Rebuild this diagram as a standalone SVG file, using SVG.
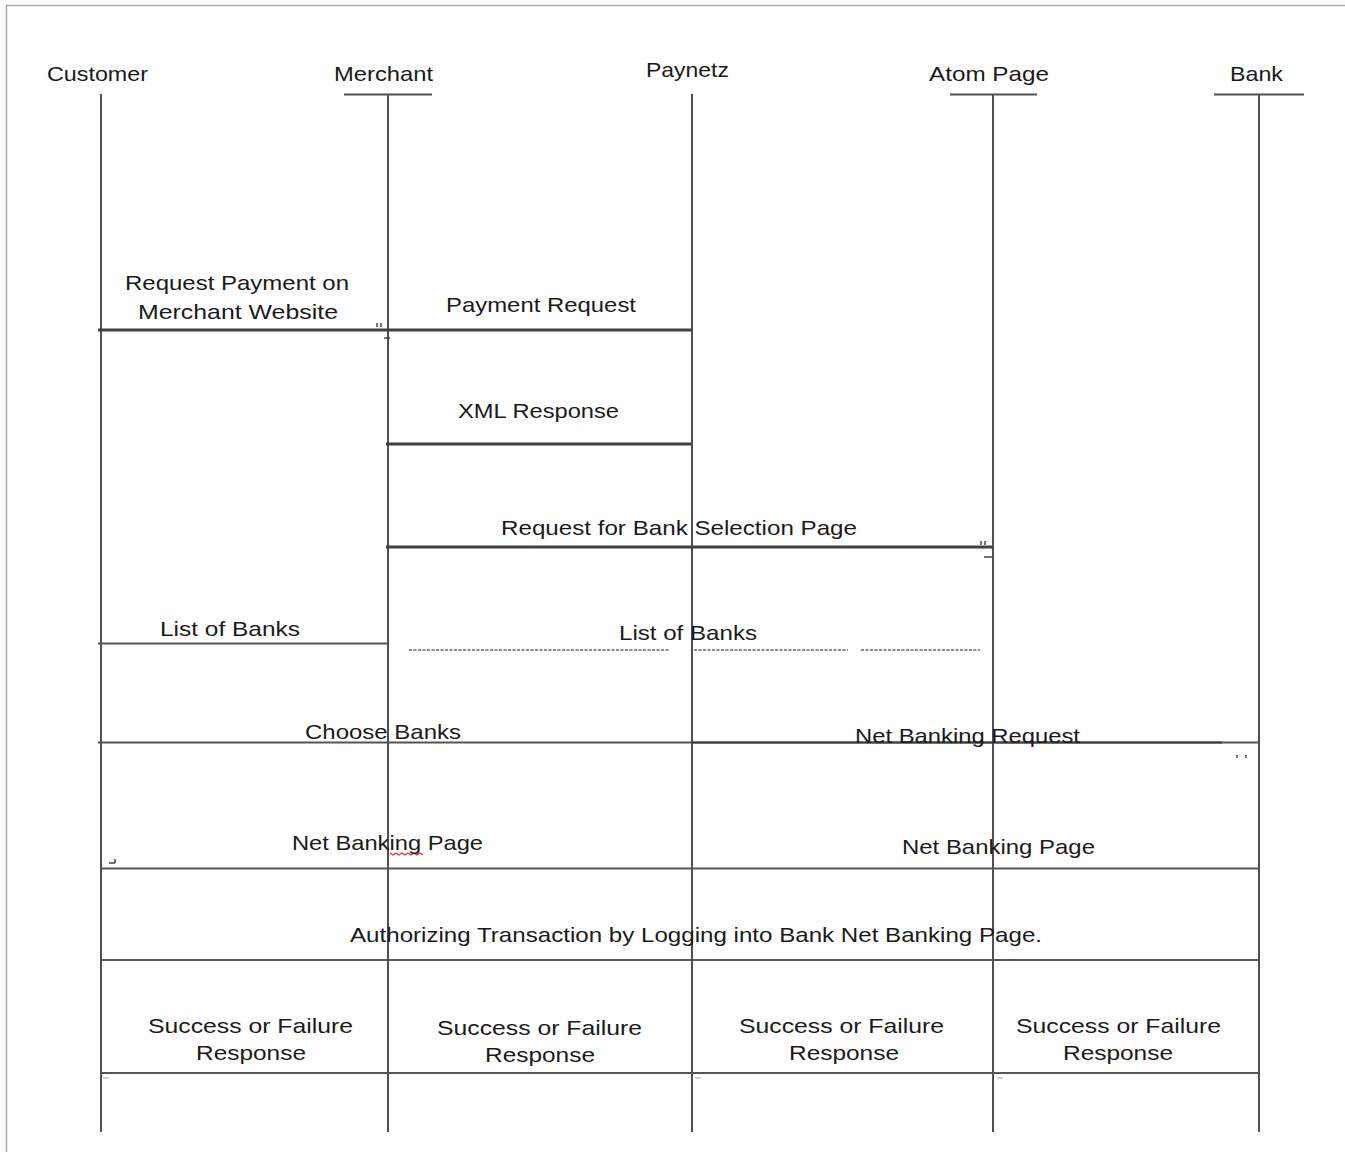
<svg xmlns="http://www.w3.org/2000/svg" width="1345" height="1152" viewBox="0 0 1345 1152">
<style>
text{font-family:"Liberation Sans",Arial,sans-serif;font-size:21px;fill:#1a1a1a}
.life{stroke:#505050;stroke-width:2;fill:none}
.hdr{stroke:#505050;stroke-width:2;fill:none}
.thick{stroke:#404040;stroke-width:3.2;fill:none}
.mid{stroke:#555;stroke-width:2.2;fill:none}
.dash{stroke:#666;stroke-width:1.5;stroke-dasharray:3 1.5;fill:none}
.tick{stroke:#444;stroke-width:1.5;fill:none}
</style>
<rect width="1345" height="1152" fill="#fff"/>
<path d="M6.5 1152V5.5H1345" stroke="#aaa" stroke-width="1.5" fill="none"/>
<g id="customer">
<text x="47" y="81" textLength="101" lengthAdjust="spacingAndGlyphs">Customer</text>
<line class="life" x1="101" y1="94" x2="101" y2="1132"/>
</g>
<g id="merchant">
<text x="334" y="81" textLength="99" lengthAdjust="spacingAndGlyphs">Merchant</text>
<line class="hdr" x1="344" y1="94.5" x2="432" y2="94.5"/>
<line class="life" x1="388" y1="94" x2="388" y2="1132"/>
</g>
<g id="paynetz">
<text x="646" y="77" textLength="83" lengthAdjust="spacingAndGlyphs">Paynetz</text>
<line class="life" x1="692" y1="94" x2="692" y2="1132"/>
</g>
<g id="atom-page">
<text x="929" y="81" textLength="120" lengthAdjust="spacingAndGlyphs">Atom  Page</text>
<line class="hdr" x1="950" y1="94.5" x2="1037" y2="94.5"/>
<line class="life" x1="993" y1="94" x2="993" y2="1132"/>
</g>
<g id="bank">
<text x="1230" y="81" textLength="53" lengthAdjust="spacingAndGlyphs">Bank</text>
<line class="hdr" x1="1214" y1="94.5" x2="1304" y2="94.5"/>
<line class="life" x1="1259" y1="94" x2="1259" y2="1132"/>
</g>
<g id="connectors">
<line class="thick" x1="98" y1="330" x2="692" y2="330"/>
<path class="tick" d="M377 323v4M381 323v4M384 338h6"/>
<line class="thick" x1="386" y1="444" x2="692" y2="444"/>
<line class="thick" x1="386" y1="547" x2="993" y2="547"/>
<path class="tick" d="M981 541v4M985 541v4M984 557h8"/>
<line class="mid" x1="98" y1="643.5" x2="388" y2="643.5"/>
<line class="dash" x1="409" y1="650" x2="669" y2="650"/>
<line class="dash" x1="694" y1="650" x2="848" y2="650"/>
<line class="dash" x1="861" y1="650" x2="980" y2="650"/>
<line class="mid" x1="98" y1="742.5" x2="692" y2="742.5"/>
<line class="thick" x1="692" y1="742.5" x2="1222" y2="742.5" style="stroke-width:2.6"/>
<line class="mid" x1="1222" y1="742.5" x2="1259" y2="742.5"/>
<path class="tick" d="M1237 755v3M1246 755v3"/>
<path class="tick" d="M109 863h6M115 859v4"/>
<path d="M390 853l3 2 3-2 3 2 3-2 3 2 3-2 3 2 3-2 3 2 3-2 3 2" stroke="#e03030" stroke-width="1.2" fill="none"/>
<line class="mid" x1="101" y1="868.5" x2="1259" y2="868.5"/>
<line class="mid" x1="101" y1="960" x2="1259" y2="960"/>
<line class="mid" x1="101" y1="1073" x2="1259" y2="1073"/>
<path d="M103 1078h6M695 1078h6M997 1078h6" stroke="#9ab" stroke-width="1" fill="none"/>
</g>
<g id="labels">
<text x="125" y="290" textLength="224" lengthAdjust="spacingAndGlyphs">Request  Payment on</text>
<text x="138" y="319" textLength="200" lengthAdjust="spacingAndGlyphs">Merchant  Website</text>
<text x="446" y="312" textLength="190" lengthAdjust="spacingAndGlyphs">Payment  Request</text>
<text x="458" y="418" textLength="161" lengthAdjust="spacingAndGlyphs">XML Response</text>
<text x="501" y="535" textLength="356" lengthAdjust="spacingAndGlyphs">Request  for Bank Selection Page</text>
<text x="160" y="636" textLength="140" lengthAdjust="spacingAndGlyphs">List of Banks</text>
<text x="619" y="640" textLength="138" lengthAdjust="spacingAndGlyphs">List of Banks</text>
<text x="305" y="739" textLength="156" lengthAdjust="spacingAndGlyphs">Choose Banks</text>
<text x="855" y="743" textLength="225" lengthAdjust="spacingAndGlyphs">Net Banking Request</text>
<text x="292" y="850" textLength="191" lengthAdjust="spacingAndGlyphs">Net  Banking Page</text>
<text x="902" y="854" textLength="193" lengthAdjust="spacingAndGlyphs">Net  Banking Page</text>
<text x="350" y="942" textLength="692" lengthAdjust="spacingAndGlyphs">Authorizing Transaction by Logging into Bank Net Banking Page.</text>
<text x="148" y="1033" textLength="205" lengthAdjust="spacingAndGlyphs">Success  or  Failure</text>
<text x="196" y="1060" textLength="110" lengthAdjust="spacingAndGlyphs">Response</text>
<text x="437" y="1035" textLength="205" lengthAdjust="spacingAndGlyphs">Success  or  Failure</text>
<text x="485" y="1062" textLength="110" lengthAdjust="spacingAndGlyphs">Response</text>
<text x="739" y="1033" textLength="205" lengthAdjust="spacingAndGlyphs">Success  or  Failure</text>
<text x="789" y="1060" textLength="110" lengthAdjust="spacingAndGlyphs">Response</text>
<text x="1016" y="1033" textLength="205" lengthAdjust="spacingAndGlyphs">Success  or  Failure</text>
<text x="1063" y="1060" textLength="110" lengthAdjust="spacingAndGlyphs">Response</text>
</g>
</svg>
